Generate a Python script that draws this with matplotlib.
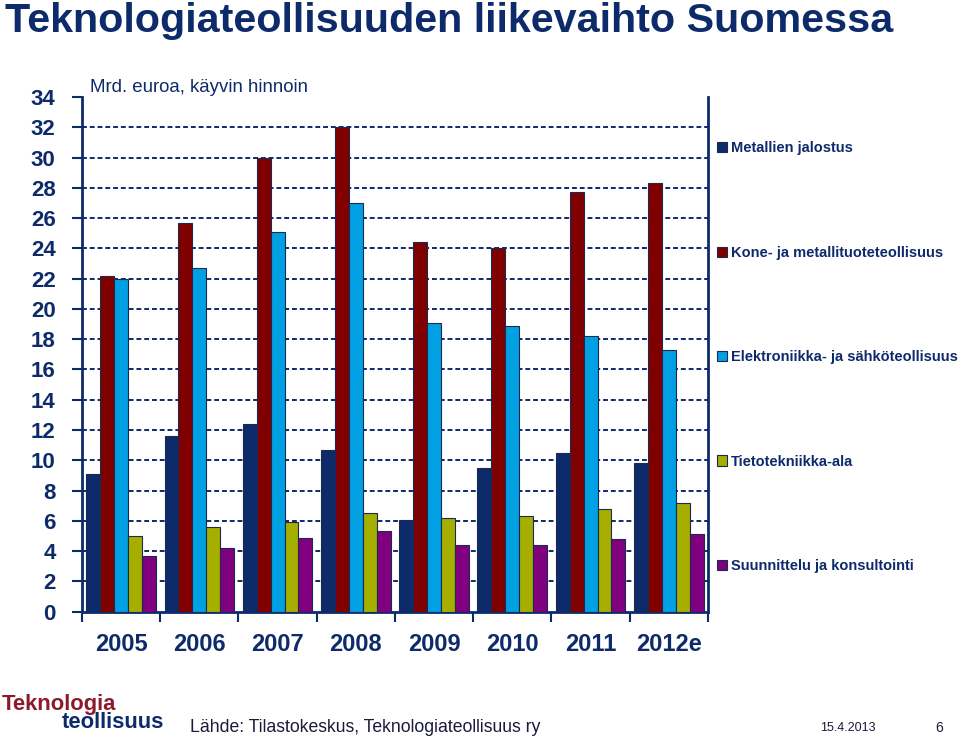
import numpy as np
import matplotlib
matplotlib.use("Agg")
import matplotlib.pyplot as plt

# -----------------------------
# Data (Mrd. euroa, käyvin hinnoin)
# -----------------------------
years = ["2005", "2006", "2007", "2008", "2009", "2010", "2011", "2012e"]
series_names = [
    "Metallien jalostus",
    "Kone- ja metallituoteteollisuus",
    "Elektroniikka- ja sähköteollisuus",
    "Tietotekniikka-ala",
    "Suunnittelu ja konsultointi",
]
metallien = [9.1, 11.6, 12.4, 10.7, 6.05, 9.5, 10.5, 9.85]
kone = [22.2, 25.65, 30.0, 32.0, 24.4, 24.0, 27.7, 28.3]
elektroniikka = [22.0, 22.7, 25.1, 27.0, 19.1, 18.9, 18.2, 17.3]
tietotekniikka = [5.0, 5.6, 5.9, 6.5, 6.2, 6.3, 6.8, 7.2]
suunnittelu = [3.7, 4.2, 4.85, 5.3, 4.4, 4.4, 4.8, 5.15]

colors = ["#0d2a6a", "#800000", "#00a0e2", "#a6ae00", "#800080"]
navy = "#0d2a6a"

plt.rcParams["font.family"] = ["Liberation Sans", "DejaVu Sans"]

fig = plt.figure(figsize=(9.6, 7.41), dpi=100)
ax = fig.add_axes([0.0854, 0.1745, 0.652, 0.6946])

# -----------------------------
# Bars
# -----------------------------
values = [metallien, kone, elektroniikka, tietotekniikka, suunnittelu]
x = np.arange(len(years))
w = 0.178
for i, (vals, c, name) in enumerate(zip(values, colors, series_names)):
    ax.bar(x + (i - 2) * w, vals, width=w, color=c, edgecolor="#1a2a50",
           linewidth=0.8, label=name, zorder=3)

ax.set_xlim(-0.5, len(years) - 0.5)
ax.set_ylim(0, 34)

# gridlines (dashed navy)
for yv in range(2, 34, 2):
    ax.axhline(yv, color=navy, linestyle=(0, (2.5, 1.5)), linewidth=1.4, zorder=1)

ax.set_yticks(range(0, 35, 2))
ax.set_yticklabels([str(v) for v in range(0, 35, 2)], fontsize=16,
                   fontweight="bold", color=navy)
ax.tick_params(axis="y", direction="out", length=7, width=1.5, color=navy, pad=12)

# category separators as x ticks, labels in between
ax.set_xticks(np.arange(-0.5, len(years), 1.0))
ax.set_xticklabels([])
ax.tick_params(axis="x", direction="out", length=7, width=1.5, color=navy)
ax.set_xticks(x, minor=True)
ax.set_xticklabels(years, minor=True, fontsize=17, fontweight="bold", color=navy)
ax.tick_params(axis="x", which="minor", length=0, pad=15)

for s in ["left", "bottom", "right"]:
    ax.spines[s].set_color(navy)
    ax.spines[s].set_linewidth(2)
ax.spines["top"].set_visible(False)

# -----------------------------
# Legend
# -----------------------------
leg = ax.legend(loc="upper left", bbox_to_anchor=(1.005, 0.925), frameon=False,
                prop={"weight": "bold", "size": 10.5}, handlelength=0.7,
                handleheight=0.7, handletextpad=0.25, labelspacing=6.2,
                borderaxespad=0)
for t in leg.get_texts():
    t.set_color(navy)

# -----------------------------
# Titles and footer
# -----------------------------
fig.text(0.005, 0.972, "Teknologiateollisuuden liikevaihto Suomessa",
         fontsize=29.7, fontweight="bold", color=navy, va="center", ha="left")
fig.text(0.094, 0.882, "Mrd. euroa, käyvin hinnoin", fontsize=13.4,
         color=navy, va="center", ha="left")

fig.text(0.002, 0.049, "Teknologia", fontsize=15.8, fontweight="bold",
         color="#8c1a2a", va="center", ha="left")
fig.text(0.064, 0.025, "teollisuus", fontsize=15.8, fontweight="bold",
         color=navy, va="center", ha="left")
fig.text(0.198, 0.018, "Lähde: Tilastokeskus, Teknologiateollisuus ry",
         fontsize=12.7, color="#1a1a3a", va="center", ha="left")
fig.text(0.854, 0.018, "15.4.2013", fontsize=9, color="#1a1a3a",
         va="center", ha="left")
fig.text(0.974, 0.018, "6", fontsize=10, color="#1a1a3a", va="center", ha="left")

plt.savefig("out.png", dpi=100)
plt.close()
